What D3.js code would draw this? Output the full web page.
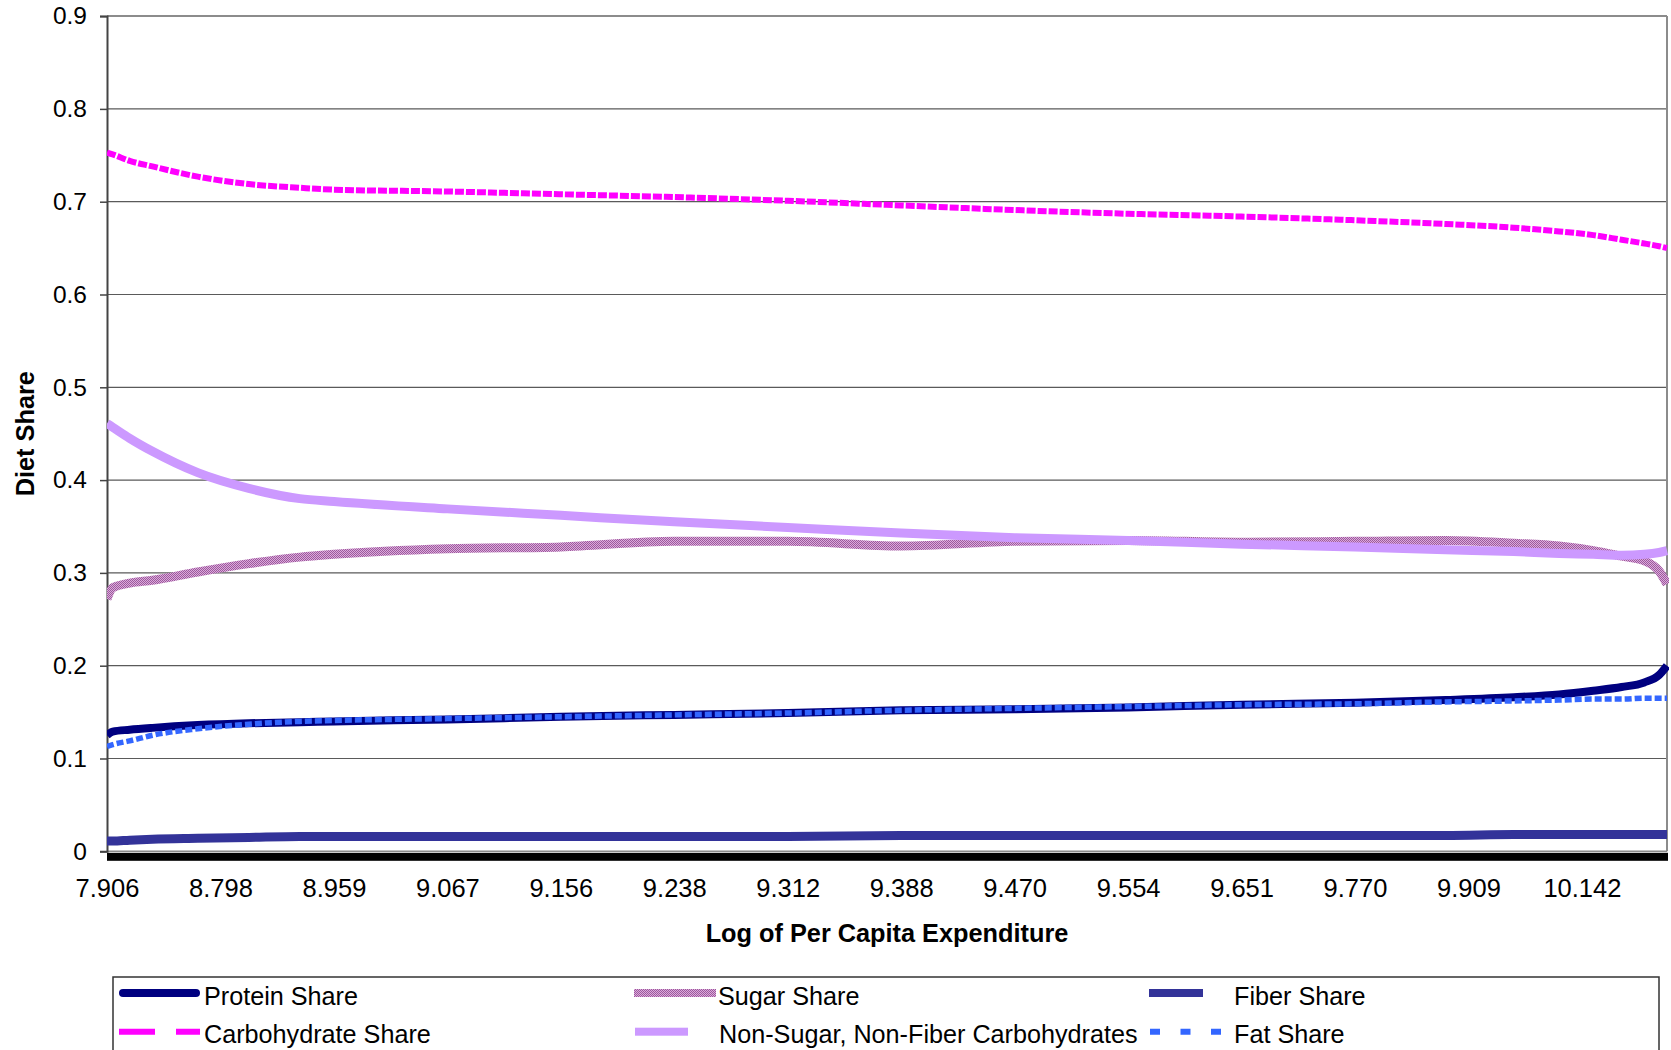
<!DOCTYPE html>
<html>
<head>
<meta charset="utf-8">
<script src="https://cdn.jsdelivr.net/npm/d3@7"></script>
<style>
  html, body { margin: 0; padding: 0; background: #fff; }
  svg { display: block; font-family: "Liberation Sans", Arial, sans-serif; }
</style>
</head>
<body>
<svg id="chart" width="1671" height="1050"></svg>
<script>
// ---- data ----
const xTickLabels = ["7.906","8.798","8.959","9.067","9.156","9.238","9.312","9.388","9.470","9.554","9.651","9.770","9.909","10.142"];
const yTickValues = [0, 0.1, 0.2, 0.3, 0.4, 0.5, 0.6, 0.7, 0.8, 0.9];
const yTickLabels = ["0","0.1","0.2","0.3","0.4","0.5","0.6","0.7","0.8","0.9"];
// position along category axis, in units of labelled categories
const xPos = [0, 0.05, 0.2, 0.4, 0.8, 1.25, 1.7, 2, 3, 4, 5, 6, 7, 8, 9, 10, 11, 11.8, 12.4, 12.8, 13.1, 13.35, 13.55, 13.68, 13.75];
const proteinShare = [0.125,0.129,0.131,0.133,0.136,0.138,0.139,0.140,0.142,0.145,0.147,0.149,0.152,0.153,0.155,0.158,0.160,0.163,0.166,0.169,0.173,0.177,0.182,0.190,0.200];
const sugarShare   = [0.272,0.284,0.289,0.292,0.301,0.310,0.317,0.320,0.326,0.328,0.334,0.334,0.329,0.334,0.335,0.333,0.334,0.335,0.332,0.329,0.324,0.318,0.313,0.302,0.288];
const fiberShare   = [0.011,0.011,0.012,0.013,0.014,0.015,0.016,0.016,0.016,0.016,0.016,0.016,0.017,0.017,0.017,0.017,0.017,0.017,0.018,0.018,0.018,0.018,0.018,0.018,0.018];
const carbShare    = [0.753,0.751,0.744,0.738,0.727,0.719,0.715,0.713,0.711,0.708,0.705,0.701,0.696,0.691,0.687,0.684,0.680,0.676,0.672,0.668,0.664,0.659,0.655,0.652,0.650];
const nonSugarShare= [0.461,0.457,0.445,0.431,0.408,0.391,0.380,0.377,0.369,0.362,0.355,0.349,0.343,0.338,0.335,0.331,0.328,0.325,0.323,0.321,0.320,0.319,0.320,0.322,0.324];
const fatShare     = [0.113,0.115,0.119,0.125,0.132,0.137,0.140,0.141,0.143,0.145,0.147,0.149,0.152,0.154,0.156,0.158,0.159,0.161,0.162,0.163,0.164,0.164,0.165,0.165,0.165];
const seriesNames = ["Protein Share","Sugar Share","Fiber Share","Carbohydrate Share","Non-Sugar, Non-Fiber Carbohydrates","Fat Share"];

// ---- layout ----
(function () {
const svg = d3.select("#chart");
const pLeft = 107, pRight = 1667, pTop = 16.1, pBottom = 851.3;
const x = d3.scaleLinear().domain([0, d3.max(xPos)]).range([pLeft, pRight]);
const y = d3.scaleLinear().domain([0, 0.9]).range([pBottom, pTop]);

const defs = svg.append("defs");
const pat = defs.append("pattern").attr("id","hatch").attr("patternUnits","userSpaceOnUse")
  .attr("width",2).attr("height",2);
pat.append("rect").attr("width",2).attr("height",2).attr("fill","#dcaadc");
pat.append("rect").attr("width",1).attr("height",1).attr("fill","#9c5a9c");
pat.append("rect").attr("x",1).attr("y",1).attr("width",1).attr("height",1).attr("fill","#9c5a9c");
defs.append("clipPath").attr("id","clip").append("rect")
  .attr("x",pLeft).attr("y",pTop-4).attr("width",pRight-pLeft+2).attr("height",pBottom-pTop+8);

// gridlines
svg.append("g").selectAll("line").data(yTickValues.filter(v => v > 0 && v < 0.9)).join("line")
  .attr("x1", pLeft).attr("x2", pRight).attr("y1", d => y(d)).attr("y2", d => y(d))
  .attr("stroke", "#5a5a5a").attr("stroke-width", 1.2);
svg.append("line").attr("x1",pLeft).attr("x2",pRight).attr("y1",y(0)).attr("y2",y(0))
  .attr("stroke","#8a8a8a").attr("stroke-width",1.5);
// top & right border
svg.append("line").attr("x1",pLeft).attr("x2",pRight).attr("y1",y(0.9)).attr("y2",y(0.9))
  .attr("stroke","#8c8c8c").attr("stroke-width",2);
svg.append("line").attr("x1",pRight).attr("x2",pRight).attr("y1",y(0.9)).attr("y2",y(0))
  .attr("stroke","#8c8c8c").attr("stroke-width",2);

// y axis
const yAxis = svg.append("g").attr("transform", `translate(${pLeft},0)`)
  .call(d3.axisLeft(y).tickValues(yTickValues).tickFormat((d,i) => yTickLabels[i]).tickSize(7).tickPadding(13));
yAxis.select(".domain").attr("stroke","#444").attr("stroke-width",2);
yAxis.selectAll(".tick line").attr("stroke","#444").attr("stroke-width",1.5);
yAxis.selectAll("text").attr("font-size",24.5).attr("fill","#000")
  .attr("font-family","'Liberation Sans', Arial, sans-serif");

// x axis
const xAxis = svg.append("g").attr("transform", `translate(0,${pBottom})`)
  .call(d3.axisBottom(x).tickValues(d3.range(xTickLabels.length)).tickFormat((d,i) => xTickLabels[i]).tickSize(0));
xAxis.select(".domain").remove();
xAxis.selectAll("text").attr("font-size",25.5).attr("fill","#000").attr("dy",null).attr("y",46)
  .attr("font-family","'Liberation Sans', Arial, sans-serif");
// thick black base bar
svg.append("rect").attr("x",pLeft).attr("y",pBottom+1.5).attr("width",pRight-pLeft+1).attr("height",8).attr("fill","#000");

// axis titles
svg.append("text").attr("x",(pLeft+pRight)/2).attr("y",942).attr("text-anchor","middle")
  .attr("font-size",25.3).attr("font-weight","bold").text("Log of Per Capita Expenditure");
svg.append("text").attr("transform",`translate(34,${(pTop+pBottom)/2}) rotate(-90)`).attr("text-anchor","middle")
  .attr("font-size",25.3).attr("font-weight","bold").text("Diet Share");

// series
const styles = [
  {vals: proteinShare, stroke: "#000080", w: 8, dash: null},
  {vals: sugarShare, stroke: "url(#hatch)", w: 9, dash: null},
  {vals: fiberShare, stroke: "#333399", w: 9, dash: null},
  {vals: carbShare, stroke: "#ff00ff", w: 6, dash: "9,2"},
  {vals: nonSugarShare, stroke: "#cc99ff", w: 9, dash: null},
  {vals: fatShare, stroke: "#3366ff", w: 5.5, dash: "7,3"}
];
const line = d3.line().x(d => x(d[0])).y(d => y(d[1])).curve(d3.curveMonotoneX);
const gLines = svg.append("g").attr("clip-path","url(#clip)");
styles.forEach(s => {
  gLines.append("path").datum(xPos.map((t,i) => [t, s.vals[i]]))
    .attr("d", line).attr("fill","none").attr("stroke", s.stroke).attr("stroke-width", s.w)
    .attr("stroke-dasharray", s.dash).attr("stroke-linejoin","round");
});

// legend
const lg = svg.append("g");
lg.append("rect").attr("x",113).attr("y",977).attr("width",1546).attr("height",100)
  .attr("fill","#fff").attr("stroke","#333").attr("stroke-width",1.5);
const r1 = 993, r2 = 1031.7, t1 = 1005, t2 = 1043;
lg.append("line").attr("x1",123).attr("x2",196).attr("y1",r1).attr("y2",r1)
  .attr("stroke","#000080").attr("stroke-width",8).attr("stroke-linecap","round");
lg.append("rect").attr("x",634).attr("y",r1-4).attr("width",82).attr("height",8).attr("fill","url(#hatch)");
lg.append("rect").attr("x",1149).attr("y",r1-4).attr("width",54).attr("height",8).attr("fill","#333399");
lg.append("line").attr("x1",119).attr("x2",200).attr("y1",r2).attr("y2",r2)
  .attr("stroke","#ff00ff").attr("stroke-width",6).attr("stroke-dasharray","36,21");
lg.append("rect").attr("x",635).attr("y",r2-4).attr("width",53).attr("height",8).attr("fill","#cc99ff");
lg.append("line").attr("x1",1150).attr("x2",1221).attr("y1",r2).attr("y2",r2)
  .attr("stroke","#3366ff").attr("stroke-width",6).attr("stroke-dasharray","10,20.5");
const legPos = [[204,t1],[718,t1],[1234,t1],[204,t2],[719,t2],[1234,t2]];
lg.selectAll("text.leg").data(seriesNames).join("text").attr("class","leg")
  .attr("x",(d,i) => legPos[i][0]).attr("y",(d,i) => legPos[i][1])
  .attr("font-size",25.2).attr("fill","#000").text(d => d);
})();
</script>
</body>
</html>
